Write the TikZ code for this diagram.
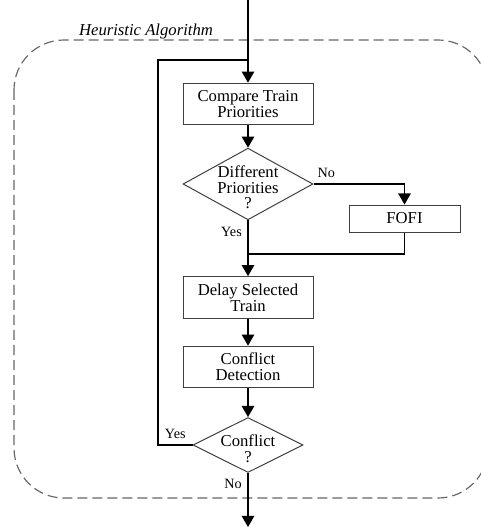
\documentclass[tikz,border=0pt]{standalone}
\usepackage{fontspec}
\setmainfont{Liberation Serif}
\usetikzlibrary{arrows,shapes.geometric}

\begin{document}
\begin{tikzpicture}[x=0.6pt, y=-0.6pt,
  font=\fontsize{10}{9.5}\selectfont,
  flow/.style={line width=0.8pt},
  process/.style={draw=black!75, line width=0.6pt, rectangle, minimum width=78pt, minimum height=25pt, align=center, inner sep=0pt},
  decision/.style={draw=black!75, line width=0.6pt, diamond, inner sep=0pt},
  small/.style={font=\fontsize{8.5}{9}\selectfont}]

\useasboundingbox (0,0) rectangle (481,527);

% dashed frame
\begin{scope}
\clip (0,0) rectangle (481,527);
\draw[black!60, line width=0.7pt, dash pattern=on 6pt off 3pt, rounded corners=30pt] (14,40) rectangle (488,498);
\end{scope}
\node[font=\fontsize{10}{10}\selectfont\itshape] (title) at (146,31) {Heuristic Algorithm};

\coordinate (entry) at (248,0);
\coordinate (exit) at (248,527);
\coordinate (back) at (158,60);
\coordinate (merge) at (248,254);

\node[process] (compare) at (248,104) {Compare Train\\Priorities};
\node[decision, minimum width=78pt, minimum height=43pt,
  label={[align=center, yshift=-2pt]center:{Different\\Priorities\\?}}] (diff) at (248,184) {};
\node[process, minimum width=66.6pt, minimum height=16.2pt] (fofi) at (404.5,218.5) {FOFI};
\node[process] (delay) at (248,297.5) {Delay Selected\\Train};
\node[process] (detect) at (248,367) {Conflict\\Detection};
\node[decision, minimum width=66pt, minimum height=33pt,
  label={[align=center, yshift=-2pt]center:{Conflict\\?}}] (conflict) at (248,445) {};

\draw[flow, -triangle 60] (entry) -- (compare);
\draw[flow, -triangle 60] (compare) -- (diff);
\draw[flow, -triangle 60] (diff.east) -| (fofi.north) node[pos=0.07, above, small] {No};
\draw[flow, -triangle 60] (diff.south) -- (delay.north) node[pos=0.21, left, small] {Yes};
\draw[flow] (fofi.south) |- (merge);
\draw[flow, -triangle 60] (delay) -- (detect);
\draw[flow, -triangle 60] (detect) -- (conflict);
\draw[flow] (conflict.west) -- (conflict.west -| back) node[midway, above, small] {Yes}
  -- (back) -- (back -| compare.north);
\draw[flow, -triangle 60] (conflict.south) -- (exit) node[pos=0.2, left, small] {No};

\end{tikzpicture}
\end{document}
